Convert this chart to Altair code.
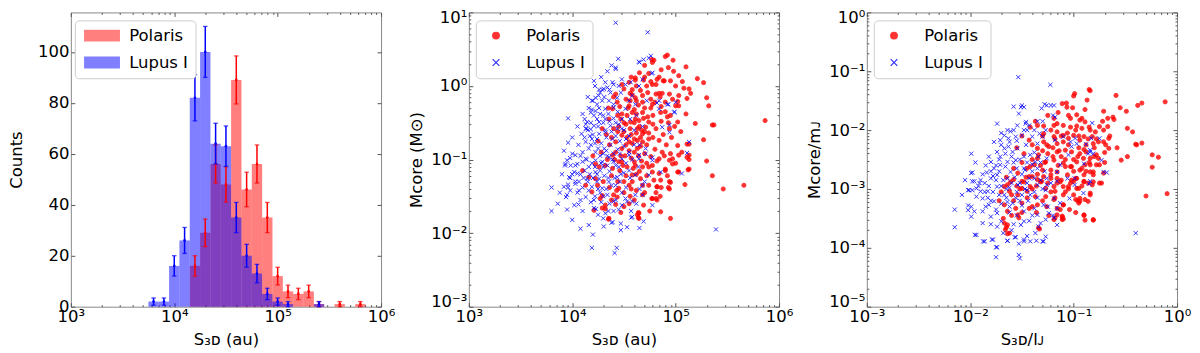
import altair as alt
import numpy as np
import pandas as pd

# ---------------- data ----------------
series_names = ["Polaris", "Lupus I"]
series_colors = ["#ff0000", "#0000ff"]

# histogram: log10 bin centres (bins 0.1 dex wide) and counts
bin_log_centers = [3.8, 3.9, 4.0, 4.1, 4.2, 4.3, 4.4, 4.5, 4.6, 4.7, 4.8,
                   4.9, 5.0, 5.1, 5.2, 5.3, 5.4, 5.5, 5.6, 5.7, 5.8]
polaris_counts = [0, 0, 0, 0, 16, 29, 56, 48, 89, 46, 56, 35, 12, 6, 5, 6, 1, 0, 1, 0, 1]
lupus_counts = [2, 2, 16, 26, 82, 100, 64, 63, 35, 20, 13, 5, 2, 1, 0, 0, 1, 0, 0, 0, 0]

# panel 2: (log10 S3D [au], log10 Mcore [Msun])
polaris_sep_mass = [
    (5.865, -0.47), (5.66, -1.35), (5.46, -1.40), (5.355, -1.22), (5.30, -1.02), (5.27, -0.73),
    (5.355, -0.53), (5.37, -0.53), (5.19, -0.51), (5.32, -0.27), (5.30, -0.16), (5.27, 0.045),
    (5.21, 0.10), (5.10, 0.26), (5.11, -0.17), (5.145, -0.10), (5.08, -0.03), (5.065, 0.06),
    (5.00, 0.00), (4.975, 0.35), (4.92, 0.42), (4.90, 0.40), (4.88, 0.07), (4.87, -0.10),
    (4.97, -0.18), (5.02, -0.21), (5.03, -0.27), (5.11, -0.79), (5.12, -1.14), (5.09, -1.34),
    (5.13, -1.00), (5.02, -0.81), (5.02, -1.17), (4.95, -1.80), (4.855, -1.71), (4.94, -1.40),
    (4.95, -1.31), (4.90, -1.13), (4.77, 0.36), (4.79, 0.35), (4.65, 0.18), (4.69, 0.08),
    (4.74, 0.17), (4.61, 0.08), (4.55, 0.05), (4.58, -0.05), (4.81, 0.02), (4.81, -0.11),
    (4.84, -0.10), (4.73, -0.09), (4.81, -1.53), (4.77, -1.53), (4.81, -1.45), (4.82, -1.37),
    (4.64, -1.72), (4.64, -1.79), (4.63, -1.75), (4.42, -1.61), (4.35, -1.81), (4.32, -1.67),
    (4.29, -1.49),
    (4.775, 0.32), (4.61, 0.11), (4.775, 0.02), (4.82, 0.09), (4.89, 0.07), (4.95, 0.07),
    (5.03, 0.14), (5.13, -0.04), (4.94, -0.11), (5.03, -0.13), (4.68, -0.13), (4.61, -0.16),
    (4.50, -0.04), (4.42, -0.11), (4.55, -0.27), (4.775, -0.25), (4.90, -0.22), (5.00, -0.27),
    (5.10, -0.38), (5.02, -0.49), (4.855, -0.36), (4.68, -0.36), (4.61, -0.45), (4.74, -0.49),
    (4.81, -0.58), (4.94, -0.58), (5.13, -0.79), (5.11, -0.97), (4.97, -0.99), (4.87, -0.90),
    (4.74, -0.72), (4.68, -0.65), (4.56, -0.58), (4.52, -0.52), (4.48, -0.67), (4.55, -0.76),
    (4.63, -0.85), (4.48, -0.85), (4.42, -0.76), (4.39, -0.94), (4.48, -1.03), (4.60, -1.03),
    (4.775, -1.08), (4.355, -0.45), (4.29, -0.58), (4.435, -0.22), (4.39, -0.31), (4.48, -0.38),
    (4.58, -0.36), (4.645, -0.47), (4.565, -0.49), (4.71, -0.56), (4.63, -0.58), (4.68, -0.76),
    (4.95, -0.92), (5.03, -0.94), (5.13, -0.94), (4.84, -0.99), (4.94, -1.01), (4.97, -1.06),
    (5.13, -1.13), (5.03, -1.17), (4.90, -1.15), (4.84, -1.19), (4.775, -1.17), (4.68, -1.10),
    (4.61, -1.08), (4.53, -1.10), (4.45, -1.03), (4.39, -1.12), (4.32, -1.08), (4.225, -1.06),
    (4.225, -1.26), (4.19, -1.44), (4.27, -1.53), (4.32, -1.62), (4.355, -1.80), (4.40, -1.48),
    (4.435, -1.51), (4.45, -1.39), (4.55, -1.35), (4.58, -1.21), (4.68, -1.35), (4.68, -1.48),
    (4.775, -1.53), (4.82, -1.55), (4.82, -1.37), (4.855, -1.28), (4.94, -1.30), (4.93, -1.38),
    (4.645, -1.73), (4.645, -1.80), (4.50, -1.64), (4.29, -1.66), (4.21, -1.69), (4.10, -1.15),
    (4.16, -1.24), (4.13, -1.35), (4.245, -1.35),
    (4.45, -0.55), (4.50, -0.62), (4.53, -0.70), (4.57, -0.66), (4.60, -0.72), (4.62, -0.64),
    (4.66, -0.70), (4.70, -0.62), (4.72, -0.80), (4.66, -0.82), (4.60, -0.90), (4.55, -0.88),
    (4.51, -0.95), (4.57, -0.98), (4.64, -0.95), (4.70, -0.92), (4.76, -0.96), (4.80, -0.86),
    (4.78, -0.70), (4.84, -0.74), (4.88, -0.66), (4.91, -0.80), (4.86, -0.48), (4.92, -0.42),
    (4.78, -0.40), (4.70, -0.30), (4.64, -0.26), (4.60, -0.32), (4.53, -0.40), (4.47, -0.45),
    (4.44, -0.62), (4.42, -0.90), (4.46, -1.15), (4.52, -1.22), (4.58, -1.30), (4.62, -1.20),
    (4.66, -1.26), (4.72, -1.22), (4.74, -1.35), (4.70, -1.45), (4.62, -1.42), (4.56, -1.50),
    (4.50, -1.45), (4.44, -1.30), (4.38, -1.22), (4.36, -1.38), (4.34, -1.00), (4.36, -0.80),
    (4.33, -0.66), (4.40, -0.58), (4.46, -0.28), (4.52, -0.18), (4.58, -0.12), (4.66, -0.06),
    (4.72, 0.00), (4.62, 0.00), (4.56, -0.20), (4.76, -0.18), (4.86, -0.28), (4.93, -0.50),
    (4.96, -0.70), (4.89, -0.95), (4.82, -1.02), (4.74, -1.10), (4.67, -1.02), (4.59, -1.12),
    (4.49, -1.08), (4.41, -1.00), (4.28, -0.90), (4.25, -0.75), (4.30, -1.30), (4.26, -1.10),
    (4.20, -0.95), (4.35, -0.30), (4.40, -0.15), (4.48, 0.02), (4.57, 0.12), (4.70, 0.28),
    (4.86, 0.22), (4.98, 0.20), (4.60, -0.50), (4.65, -0.55), (4.74, -0.64), (4.78, -0.52),
    (4.69, -0.44), (4.54, -0.30), (4.62, -0.38),
    (4.47, -0.95), (4.52, -0.80), (4.58, -0.78), (4.63, -0.74), (4.67, -0.60), (4.73, -0.42),
    (4.76, -0.30), (4.80, -0.22), (4.85, -0.15), (4.90, -0.35), (4.95, -0.40), (4.99, -0.55),
    (5.05, -0.62), (5.06, -0.90), (5.00, -1.05), (4.92, -1.22), (4.86, -1.38), (4.79, -1.28),
    (4.72, -1.05), (4.65, -1.16), (4.57, -1.40), (4.50, -1.30), (4.43, -1.42), (4.38, -1.55),
    (4.47, -1.72), (4.55, -1.60), (4.60, -1.55), (4.69, -1.62), (4.75, -1.70), (4.85, -1.50),
    (4.62, -0.20), (4.68, -0.22), (4.76, 0.06), (4.84, 0.12), (4.93, 0.25), (4.70, 0.12),
    (4.56, -0.10), (4.50, -0.50), (4.44, -0.40), (4.38, -0.70),
]

lupus_sep_mass = [
    (4.42, 0.86), (4.73, 0.73), (4.42, 0.23), (4.29, -0.05), (4.65, 0.32), (4.77, 0.17),
    (4.76, 0.41), (4.45, 0.00), (3.96, -0.44), (3.96, -0.77), (3.80, -1.38), (3.80, -1.70),
    (3.96, -1.38), (4.00, -1.82), (4.08, -1.94), (4.41, -2.27), (4.43, -2.20), (4.38, -1.86),
    (4.57, -1.79), (5.39, -1.95), (5.11, -0.91), (5.06, -1.19), (4.99, -0.35), (4.94, -0.53),
    (4.93, -0.25), (4.84, -0.20), (4.82, -0.23), (4.23, -1.67), (4.21, -1.55), (3.94, -1.51),
    (3.98, -1.42), (4.03, -1.33), (4.13, -1.51), (3.93, -1.08), (3.95, -1.01), (4.03, -1.08),
    (4.05, -1.19), (4.13, -0.52), (4.14, -0.58), (4.19, -0.32), (4.18, -0.59),
    (4.445, 0.37), (4.42, 0.25), (4.645, 0.33), (4.69, 0.36), (4.74, 0.38), (4.775, 0.18),
    (4.21, 0.07), (4.39, 0.05), (4.40, 0.02), (4.34, -0.02), (4.305, -0.04), (4.27, -0.09),
    (4.255, -0.13), (4.225, -0.16), (4.19, -0.20), (4.24, -0.25), (4.29, -0.20), (4.48, 0.09),
    (4.515, 0.02), (4.47, -0.09), (4.435, -0.16), (4.37, -0.09), (4.355, -0.20), (4.40, -0.29),
    (4.32, -0.31), (4.27, -0.38), (4.225, -0.34), (4.18, -0.36), (4.145, -0.49), (4.13, -0.58),
    (4.21, -0.54), (4.26, -0.49), (4.32, -0.45), (4.37, -0.54), (4.32, -0.63), (4.26, -0.65),
    (4.19, -0.72), (4.13, -0.76), (4.16, -0.85), (4.10, -0.90), (4.03, -0.94), (4.00, -0.92),
    (3.935, -1.06), (4.05, -1.06), (4.225, -0.90), (4.31, -0.85), (4.39, -0.72), (4.435, -0.58),
    (4.48, -0.45), (4.515, -0.31), (4.55, -0.20), (4.58, -0.13), (4.61, -0.25), (4.565, 0.05),
    (4.645, 0.00), (4.68, 0.09), (4.84, -0.31), (4.87, -0.56), (4.94, -0.63), (4.92, -0.25),
    (4.985, -0.36), (5.00, -0.22), (5.13, -0.76), (4.71, -0.85), (4.645, -0.94), (4.775, -0.97),
    (4.55, -0.90), (4.48, -0.99), (4.42, -1.08), (4.29, -1.03), (4.355, -0.97),
    (3.95, -1.48), (3.96, -1.34), (3.92, -1.37), (3.97, -1.24), (4.065, -1.30), (4.065, -1.42),
    (4.06, -1.61), (4.21, -1.66), (4.32, -1.73), (4.16, -1.89), (4.20, -2.02), (4.19, -2.20),
    (4.305, -1.91), (4.39, -1.85), (4.47, -1.87), (4.47, -1.96), (4.53, -1.92), (4.58, -1.78),
    (4.65, -1.93), (4.69, -1.84), (4.58, -1.57), (4.61, -1.48), (4.53, -1.57), (4.48, -1.62),
    (4.515, -1.53), (4.68, -1.48), (4.775, -1.62), (4.68, -1.35), (4.855, -1.17), (4.74, -1.21),
    (4.61, -1.21), (4.55, -1.15), (4.435, -1.24), (4.355, -1.30), (4.29, -1.39), (4.26, -1.26),
    (4.225, -1.17), (4.16, -1.10), (4.10, -1.03), (4.02, -1.17), (3.985, -1.08), (4.13, -0.99),
    (4.225, -1.01), (4.34, -1.08), (4.40, -1.03), (4.55, -0.94), (4.645, -0.99), (4.71, -0.92),
    (4.775, -1.01), (4.34, -1.48), (4.40, -1.57), (4.19, -1.37), (4.145, -1.26),
    (4.15, -0.60), (4.20, -0.66), (4.24, -0.72), (4.28, -0.78), (4.33, -0.70), (4.38, -0.62),
    (4.42, -0.68), (4.46, -0.75), (4.50, -0.82), (4.44, -0.86), (4.37, -0.80), (4.30, -0.92),
    (4.25, -0.85), (4.18, -0.80), (4.12, -1.15), (4.17, -1.20), (4.22, -1.10), (4.27, -1.15),
    (4.31, -1.22), (4.36, -1.16), (4.41, -1.25), (4.46, -1.30), (4.50, -1.18), (4.45, -1.10),
    (4.38, -1.35), (4.33, -1.40), (4.27, -1.45), (4.22, -1.50), (4.16, -1.42), (4.10, -1.38),
    (4.08, -1.20), (4.06, -0.80), (4.09, -0.65), (4.12, -0.45), (4.16, -0.30), (4.21, -0.40),
    (4.25, -0.55), (4.30, -0.50), (4.35, -0.38), (4.40, -0.44), (4.45, -0.52), (4.50, -0.60),
    (4.55, -0.68), (4.60, -0.80), (4.58, -1.00), (4.52, -1.05), (4.48, -1.45), (4.42, -1.55),
    (4.36, -1.60), (4.28, -1.58), (4.24, -1.30), (4.20, -1.25), (4.14, -1.00), (4.34, -0.95),
    (4.39, -1.00), (4.28, -1.05), (4.32, -0.60), (4.26, -0.30), (4.31, -0.15), (4.36, -0.05),
    (4.40, -0.25), (4.44, -0.35), (4.22, 0.00), (4.28, 0.12), (4.34, 0.20), (4.38, 0.28),
    (4.30, -1.80), (4.25, -1.75), (4.40, -1.70), (4.57, -1.70), (4.62, -1.60), (4.65, -1.40),
    (4.70, -1.30), (4.64, -1.10), (4.68, -0.55), (4.62, -0.40), (4.72, -0.20), (4.56, -0.45),
    (4.05, -1.45), (4.00, -1.20), (4.03, -1.30), (3.98, -0.98), (3.92, -0.88), (3.90, -1.20),
    (3.88, -1.45), (3.86, -1.60), (4.08, -1.55), (4.10, -1.70), (4.02, -1.62), (3.95, -1.68),
    (4.17, -0.68), (4.22, -0.78), (4.27, -0.95), (4.33, -0.88), (4.40, -0.92), (4.46, -0.92),
    (4.52, -0.72), (4.48, -0.58), (4.42, -0.50), (4.36, -0.48), (4.30, -0.40), (4.24, -0.45),
    (4.18, -0.50), (4.12, -0.70), (4.08, -0.95), (4.11, -1.25), (4.15, -1.30), (4.19, -1.05),
    (4.24, -1.20), (4.30, -1.10), (4.35, -1.25), (4.42, -1.35), (4.47, -1.20), (4.52, -1.38),
    (4.56, -1.25), (4.30, -1.50), (4.25, -1.40), (4.18, -1.58), (4.35, -1.70), (4.45, -1.68),
    (4.20, -0.20), (4.26, -0.05), (4.32, 0.05), (4.15, -0.15), (4.10, -0.38), (4.05, -0.55),
    (4.00, -0.70), (3.98, -1.25), (4.60, -0.60), (4.65, -0.80),
]

# panel 3: (log10 S3D/lJ, log10 Mcore/mJ)
polaris_norm = [
    (-0.096, -3.08), (-0.30, -3.12), (-0.24, -2.63), (-0.24, -2.42), (-0.18, -2.46), (-0.115, -1.52),
    (-0.34, -2.22), (-0.40, -2.24), (-0.39, -2.25), (-0.48, -2.45), (-0.54, -2.51), (-0.48, -1.97),
    (-0.43, -2.03), (-0.34, -1.54), (-0.38, -1.58), (-0.49, -1.68), (-0.55, -1.62), (-0.59, -1.41),
    (-0.62, -1.78), (-0.61, -1.82), (-0.67, -1.80), (-0.67, -1.94), (-0.58, -2.30), (-0.66, -2.31),
    (-0.66, -2.14), (-0.71, -1.68), (-0.85, -1.31), (-0.84, -1.33), (-0.87, -1.49), (-0.99, -1.38),
    (-1.00, -1.42), (-1.01, -1.62), (-1.07, -1.54), (-1.11, -1.55), (-0.89, -3.53), (-0.81, -3.53),
    (-0.90, -3.45), (-0.96, -3.20), (-0.94, -3.21), (-1.11, -3.52), (-1.11, -3.48), (-1.19, -3.52),
    (-1.33, -3.68), (-1.31, -2.87), (-1.19, -3.18), (-1.64, -3.76), (-1.65, -3.65), (-1.67, -3.58),
    (-0.94, -2.68), (-0.90, -2.76), (-0.86, -2.90), (-0.84, -3.07), (-0.94, -3.16), (-0.89, -3.18),
    (-0.97, -2.99), (-1.00, -2.87), (-1.05, -2.96), (-0.81, -2.71), (-0.78, -2.59), (-0.76, -2.48),
    (-0.905, -2.48), (-0.84, -2.59), (-1.10, -3.27), (-1.13, -3.35), (-1.16, -3.44),
    (-1.065, -1.61), (-0.89, -1.65), (-0.97, -1.74), (-1.03, -1.80), (-1.19, -1.80), (-1.16, -1.89),
    (-1.10, -1.92), (-1.19, -1.92), (-1.29, -1.93), (-1.37, -1.85), (-1.35, -1.92), (-0.94, -1.83),
    (-0.89, -1.86), (-0.97, -1.93), (-1.03, -1.95), (-0.92, -1.97), (-0.84, -2.00), (-0.79, -2.03),
    (-0.75, -1.94), (-0.71, -2.00), (-1.29, -2.06), (-1.22, -2.00), (-1.16, -2.03), (-1.19, -2.11),
    (-1.10, -2.09), (-1.05, -2.14), (-1.00, -2.09), (-0.90, -2.11), (-0.82, -2.11), (-0.71, -2.20),
    (-0.69, -2.25), (-0.81, -2.23), (-0.94, -2.17), (-1.16, -2.23), (-1.24, -2.28), (-1.29, -2.20),
    (-1.35, -2.31), (-1.43, -2.17), (-1.16, -2.37), (-1.08, -2.34), (-1.02, -2.37), (-0.94, -2.40),
    (-0.88, -2.37), (-0.78, -2.42), (-0.84, -2.48), (-0.75, -2.59), (-0.89, -2.59), (-0.97, -2.54),
    (-1.03, -2.62), (-1.10, -2.56), (-1.19, -2.51), (-1.27, -2.54), (-1.35, -2.48), (-1.38, -2.59),
    (-1.30, -2.68), (-1.16, -2.71), (-1.06, -2.76), (-0.98, -2.82), (-0.90, -2.88), (-0.81, -2.88),
    (-0.73, -2.90), (-0.84, -2.71), (-1.13, -2.88), (-1.22, -2.82), (-1.32, -2.88), (-1.40, -2.79),
    (-1.48, -2.88), (-1.54, -2.73), (-1.61, -2.88), (-1.67, -2.96), (-1.50, -2.99), (-1.42, -2.96),
    (-1.27, -2.99), (-1.19, -2.96), (-0.95, -2.99),
    (-0.71, -2.73), (-0.81, -2.76), (-0.90, -2.87), (-0.82, -2.93), (-0.75, -2.90), (-0.97, -2.82),
    (-1.03, -2.90), (-1.10, -2.96), (-1.16, -2.82), (-1.22, -2.76), (-1.29, -2.79), (-1.35, -2.84),
    (-1.43, -2.79), (-1.50, -2.87), (-1.58, -2.84), (-1.64, -2.93), (-1.62, -3.04), (-1.54, -3.10),
    (-1.45, -3.04), (-1.37, -3.13), (-1.27, -3.13), (-1.18, -3.04), (-1.10, -3.10), (-0.98, -3.18),
    (-0.95, -3.24), (-0.84, -3.10), (-0.86, -3.21), (-0.90, -3.44), (-0.81, -3.52), (-1.10, -3.27),
    (-1.16, -3.33), (-1.26, -3.30), (-1.35, -3.27), (-1.43, -3.33), (-1.50, -3.24), (-1.56, -3.33),
    (-1.64, -3.38), (-1.67, -3.27), (-1.54, -3.44), (-1.53, -3.49), (-1.64, -3.61), (-1.62, -3.75),
    (-1.66, -3.69), (-1.34, -3.66), (-1.18, -3.49), (-1.11, -3.46), (-1.10, -3.51),
    (-1.25, -2.40), (-1.20, -2.30), (-1.12, -2.45), (-1.05, -2.25), (-1.00, -2.50), (-0.95, -2.30),
    (-1.08, -2.62), (-1.15, -2.60), (-1.22, -2.68), (-1.30, -2.35), (-1.32, -2.60), (-1.40, -2.50),
    (-1.45, -2.65), (-1.50, -2.55), (-1.55, -2.95), (-1.60, -3.10), (-1.45, -3.15), (-1.40, -3.00),
    (-1.35, -2.75), (-1.25, -2.90), (-1.18, -3.15), (-1.05, -3.00), (-1.00, -2.70), (-0.92, -2.65),
    (-0.88, -2.25), (-0.95, -2.10), (-1.10, -2.20), (-1.18, -2.15), (-1.30, -2.10), (-1.42, -1.95),
    (-1.50, -2.10), (-1.55, -2.30), (-1.58, -2.65), (-1.65, -2.80), (-1.70, -3.05), (-1.72, -3.20),
    (-1.68, -3.50), (-1.60, -3.45), (-1.50, -3.40), (-1.40, -3.30), (-1.30, -3.20), (-1.22, -3.05),
    (-1.12, -2.85), (-1.02, -2.85), (-0.85, -2.55), (-0.80, -2.45), (-0.78, -2.15), (-0.85, -1.95),
    (-0.92, -1.80), (-1.05, -1.75), (-1.15, -1.70), (-1.25, -1.75), (-1.40, -2.25), (-1.48, -2.40),
    (-0.70, -2.38), (-0.65, -2.10), (-0.72, -1.85),
    (-1.20, -2.45), (-1.14, -2.35), (-1.08, -2.50), (-1.02, -2.62), (-0.96, -2.45), (-0.90, -2.33),
    (-0.86, -2.15), (-0.98, -2.00), (-1.06, -2.05), (-1.12, -2.10), (-1.26, -2.25), (-1.34, -2.42),
    (-1.42, -2.62), (-1.46, -2.80), (-1.36, -2.95), (-1.28, -2.55), (-1.16, -2.90), (-1.08, -3.05),
    (-1.00, -3.10), (-0.92, -2.95), (-0.88, -2.70), (-0.80, -2.30), (-0.76, -2.20), (-0.70, -2.55),
    (-1.52, -3.00), (-1.58, -3.20), (-1.36, -3.40), (-1.24, -3.45), (-1.04, -3.35), (-0.98, -3.40),
]

lupus_norm = [
    (-1.535, -1.10), (-1.225, -1.23), (-0.40, -3.75), (-0.68, -2.72), (-0.82, -1.88), (-0.905, -3.07),
    (-0.84, -2.87), (-0.85, -2.91), (-1.26, -2.93), (-1.29, -3.89), (-1.36, -3.88), (-1.45, -3.80),
    (-1.48, -3.89), (-1.53, -4.12), (-1.52, -4.18), (-1.57, -3.82), (-1.64, -3.88), (-1.75, -4.16),
    (-1.75, -3.99), (-1.79, -3.86), (-1.875, -3.89), (-1.955, -3.78), (-2.15, -3.35), (-2.15, -3.65),
    (-1.99, -2.40), (-1.99, -2.73), (-1.99, -3.47), (-2.02, -3.28), (-1.98, -3.02), (-1.74, -1.89),
    (-1.82, -2.45), (-1.58, -1.60), (-1.50, -1.58), (-1.51, -1.61), (-1.46, -1.86), (-1.31, -1.63),
    (-1.30, -1.85), (-1.18, -1.78), (-1.20, -1.75), (-1.22, -1.58), (-1.28, -1.56), (-0.83, -2.14),
    (-0.86, -2.40), (-0.81, -2.40), (-0.84, -2.34),
    (-1.48, -1.61), (-1.53, -1.72), (-1.26, -1.58), (-1.19, -1.58), (-1.35, -1.85), (-1.64, -2.00),
    (-1.61, -2.02), (-1.545, -1.92), (-1.465, -1.89), (-1.43, -1.92), (-1.48, -2.00), (-1.67, -2.09),
    (-1.71, -2.17), (-1.63, -2.14), (-1.56, -2.11), (-1.50, -2.09), (-1.40, -2.11), (-1.35, -2.23),
    (-1.30, -2.11), (-1.27, -2.00), (-1.33, -2.06), (-1.80, -2.54), (-1.74, -2.37), (-1.71, -2.45),
    (-1.67, -2.31), (-1.63, -2.28), (-1.59, -2.37), (-1.545, -2.31), (-1.77, -2.65), (-1.71, -2.59),
    (-1.64, -2.54), (-1.56, -2.51), (-1.48, -2.45), (-1.42, -2.42), (-1.37, -2.54), (-1.48, -2.65),
    (-1.61, -2.71), (-1.74, -2.76), (-1.80, -2.82), (-1.86, -2.90), (-1.98, -2.87), (-1.98, -2.72),
    (-1.94, -2.99), (-2.01, -3.02), (-1.26, -2.48), (-1.35, -2.65), (-1.38, -2.82), (-1.26, -2.82),
    (-1.16, -2.71), (-1.13, -2.59), (-1.05, -2.42), (-1.02, -2.28), (-0.97, -2.23), (-0.88, -2.24),
    (-0.84, -2.37), (-0.90, -2.57), (-0.99, -2.82), (-1.18, -2.17), (-1.10, -2.11), (-0.985, -2.14),
    (-1.03, -2.20), (-0.73, -2.51), (-0.75, -2.14), (-0.71, -2.71),
    (-1.96, -2.87), (-1.91, -2.90), (-2.02, -3.02), (-1.90, -3.04), (-1.94, -3.13), (-1.88, -3.16),
    (-1.99, -3.30), (-2.02, -3.36), (-1.96, -3.38), (-1.88, -3.38), (-1.88, -3.58), (-1.94, -3.78),
    (-1.86, -3.89), (-1.78, -3.86), (-1.74, -3.99), (-1.64, -3.88), (-1.56, -3.82), (-1.53, -3.93),
    (-1.48, -3.86), (-1.42, -3.89), (-1.30, -3.89), (-1.27, -3.81), (-1.37, -3.75), (-1.34, -3.64),
    (-1.27, -3.52), (-1.32, -3.58), (-1.43, -3.54), (-1.51, -3.61), (-1.74, -3.64), (-1.80, -3.47),
    (-1.74, -3.41), (-1.82, -3.27), (-1.77, -3.21), (-1.83, -3.04), (-1.74, -2.96), (-1.67, -3.10),
    (-1.59, -3.24), (-1.48, -3.38), (-1.38, -3.33), (-1.29, -3.27), (-1.35, -3.44), (-1.24, -3.41),
    (-1.16, -3.33), (-1.13, -3.24), (-1.19, -3.16), (-1.27, -3.02), (-1.35, -2.93), (-1.45, -3.02),
    (-1.54, -2.93), (-1.64, -2.82), (-1.16, -2.87), (-1.06, -2.82), (-0.99, -2.93), (-1.04, -3.16),
    (-1.16, -3.61), (-1.19, -3.49),
    (-1.85, -2.60), (-1.80, -2.70), (-1.75, -2.85), (-1.70, -2.95), (-1.65, -3.00), (-1.60, -2.90),
    (-1.55, -3.05), (-1.50, -3.10), (-1.45, -2.90), (-1.40, -2.70), (-1.45, -2.55), (-1.50, -2.75),
    (-1.55, -2.65), (-1.60, -2.45), (-1.66, -2.62), (-1.72, -2.50), (-1.78, -3.05), (-1.83, -3.15),
    (-1.70, -3.25), (-1.62, -3.30), (-1.55, -3.45), (-1.48, -3.55), (-1.40, -3.45), (-1.35, -3.15),
    (-1.30, -3.00), (-1.25, -3.30), (-1.20, -3.45), (-1.42, -3.10), (-1.52, -3.20), (-1.58, -3.60),
    (-1.68, -3.75), (-1.60, -3.70), (-1.70, -2.25), (-1.62, -2.20), (-1.55, -2.18), (-1.46, -2.25),
    (-1.38, -2.38), (-1.32, -2.55), (-1.28, -2.70), (-1.22, -2.90), (-1.65, -3.15), (-1.75, -3.35),
    (-1.85, -3.30), (-1.92, -2.95), (-1.88, -2.75), (-1.95, -2.55), (-2.05, -2.85), (-2.08, -3.10),
    (-1.77, -2.20), (-1.70, -2.05), (-1.58, -2.00), (-1.45, -2.00), (-1.38, -2.00),
    (-1.82, -2.95), (-1.78, -2.78), (-1.72, -2.70), (-1.68, -2.85), (-1.62, -2.98), (-1.57, -2.80),
    (-1.52, -2.90), (-1.47, -3.00), (-1.43, -2.82), (-1.47, -2.68), (-1.52, -2.50), (-1.58, -2.55),
    (-1.66, -2.40), (-1.75, -2.60), (-1.84, -2.72), (-1.90, -2.85), (-1.86, -3.05), (-1.80, -3.20),
    (-1.72, -3.10), (-1.64, -3.22), (-1.56, -3.15), (-1.50, -3.28), (-1.44, -3.20), (-1.38, -3.05),
    (-1.32, -2.85), (-1.40, -2.58), (-1.34, -2.45), (-1.62, -3.40), (-1.70, -3.55), (-1.80, -3.60),
]

# ---------------- tables built from the arrays ----------------
rows = []
for name, counts in zip(series_names, [polaris_counts, lupus_counts]):
    for c, n in zip(bin_log_centers, counts):
        if n > 0:
            e = float(np.sqrt(n))
            rows.append(dict(series=name, x0=10 ** (c - 0.05), x1=10 ** (c + 0.05),
                             xc=10 ** c, n=n, lo=n - e, hi=n + e))
hist = pd.DataFrame(rows)
caps = pd.concat([
    hist[["series", "xc"]].assign(v=hist["lo"]),
    hist[["series", "xc"]].assign(v=hist["hi"]),
], ignore_index=True)


def scatter_frame(red, blue):
    out = []
    for name, pts in zip(series_names, [red, blue]):
        for lx, ly in pts:
            out.append(dict(series=name, x=10 ** lx, y=10 ** ly))
    return pd.DataFrame(out)


sc2 = scatter_frame(polaris_sep_mass, lupus_sep_mass)
sc3 = scatter_frame(polaris_norm, lupus_norm)

# ---------------- styling helpers ----------------
FONT = "DejaVu Sans"
FS = 16.5
W, H = 311, 295
TICKC = "#555555"
XPATH = "M-1,-1L1,1M-1,1L1,-1"
SUP = {"-": "\u207b", "0": "\u2070", "1": "\u00b9", "2": "\u00b2", "3": "\u00b3",
       "4": "\u2074", "5": "\u2075", "6": "\u2076", "7": "\u2077", "8": "\u2078", "9": "\u2079"}
MAJOR = "abs(log(datum.value)/LN10 - round(log(datum.value)/LN10)) < 0.001"


def log_ticks(k0, k1):
    vals = []
    for k in range(k0, k1):
        for m in range(1, 10):
            vals.append(round(m * 10.0 ** k, 12))
    vals.append(10.0 ** k1)
    return vals


def pow_expr(k0, k1):
    s = "''"
    for k in range(k0, k1 + 1):
        lab = "10" + "".join(SUP[ch] for ch in str(k))
        s = f"abs(datum.value/{10.0 ** k!r} - 1) < 1e-6 ? '{lab}' : " + s
    return s


def log_axis(orient, k0, k1, title=None, labels=True, title_padding=6, flush=False):
    kw = dict(orient=orient, values=log_ticks(k0, k1), domain=False, grid=False,
              tickColor=TICKC, tickWidth=1, labelFlush=flush,
              tickSize={"condition": {"test": MAJOR, "value": -4}, "value": -2},
              labels=labels, labelPadding=6, title=title)
    if flush:
        kw["labelFlushOffset"] = 3
    if labels:
        kw["labelExpr"] = pow_expr(k0, k1)
        kw["titlePadding"] = title_padding
    return alt.Axis(**kw)


def lin_axis(orient, title=None, labels=True, title_padding=6):
    return alt.Axis(orient=orient, values=[0, 20, 40, 60, 80, 100], domain=False, grid=False,
                    tickColor=TICKC, tickWidth=1, tickSize={"expr": "-4"}, labels=labels,
                    labelFlush=False, labelPadding=6, title=title, titlePadding=title_padding)


color_scale = alt.Scale(domain=series_names, range=series_colors)
legend_box = dict(orient="none", legendY=8, title=None, padding=7,
                  fillColor="white", strokeColor="#cccccc", cornerRadius=4,
                  labelFontSize=FS, labelFont=FONT, labelColor="black", rowPadding=10)

# ---------------- panel 1: histogram ----------------
xh = alt.Scale(type="log", domain=[1e3, 1e6], nice=False)
yh = alt.Scale(domain=[0, 115.5], nice=False, zero=True)

bars = alt.Chart(hist).mark_rect(opacity=0.5, strokeWidth=0).encode(
    x=alt.X("x0:Q", scale=xh, axis=log_axis("bottom", 3, 6, title="S\u2083\u1d05 (au)")),
    x2="x1:Q",
    y=alt.Y("n:Q", scale=yh, axis=lin_axis("left", title="Counts", title_padding=13)),
    y2=alt.datum(0),
    color=alt.Color("series:N", scale=color_scale,
                    legend=alt.Legend(symbolType="M-1,-1H5V1H-1Z", symbolSize=144,
                                      symbolOpacity=0.5, symbolStrokeWidth=0,
                                      labelOffset=31, legendX=4, **legend_box)),
)

err_layers = []
for name, col in zip(series_names, series_colors):
    base = alt.Chart(hist).transform_filter(alt.datum.series == name)
    err_layers.append(base.mark_rule(color=col, strokeWidth=1.5).encode(
        x=alt.X("xc:Q", scale=xh, axis=None),
        y=alt.Y("lo:Q", scale=yh, axis=None), y2="hi:Q"))
    err_layers.append(alt.Chart(caps).transform_filter(alt.datum.series == name)
                      .mark_tick(color=col, orient="horizontal", size=4.5, thickness=1.3).encode(
        x=alt.X("xc:Q", scale=xh, axis=None),
        y=alt.Y("v:Q", scale=yh, axis=None)))
    err_layers.append(base.mark_point(color=col, filled=True, size=7, opacity=1).encode(
        x=alt.X("xc:Q", scale=xh, axis=None),
        y=alt.Y("n:Q", scale=yh, axis=None)))

frame1 = alt.Chart(hist).mark_point(opacity=0).encode(
    x=alt.X("xc:Q", scale=xh, axis=log_axis("top", 3, 6, labels=False)),
    y=alt.Y("n:Q", scale=yh, axis=lin_axis("right", labels=False)),
)

panel1 = alt.layer(bars, *err_layers, frame1).resolve_axis(
    x="independent", y="independent").properties(width=W, height=H)


# ---------------- panels 2 & 3: scatter ----------------
def scatter_panel(df, kx, ky, xtitle, ytitle):
    xs = alt.Scale(type="log", domain=[10.0 ** kx[0], 10.0 ** kx[1]], nice=False)
    ys = alt.Scale(type="log", domain=[10.0 ** ky[0], 10.0 ** ky[1]], nice=False)
    leg = alt.Legend(symbolSize=45, symbolStrokeWidth=1.2, symbolOpacity=0.8,
                     symbolOffset=5, labelOffset=22, legendX=7, **legend_box)
    pts = alt.Chart(df).mark_point(size=17, strokeWidth=1, opacity=0.8, filled=False).encode(
        x=alt.X("x:Q", scale=xs, axis=log_axis("bottom", kx[0], kx[1], title=xtitle)),
        y=alt.Y("y:Q", scale=ys, axis=log_axis("left", ky[0], ky[1], title=ytitle, flush=True)),
        color=alt.Color("series:N", scale=color_scale, legend=leg),
        fill=alt.Fill("series:N", scale=alt.Scale(domain=series_names,
                                                  range=["#ff0000", "transparent"]), legend=leg),
        shape=alt.Shape("series:N", scale=alt.Scale(domain=series_names,
                                                    range=["circle", XPATH]), legend=leg),
    )
    frame = alt.Chart(df).mark_point(opacity=0).encode(
        x=alt.X("x:Q", scale=xs, axis=log_axis("top", kx[0], kx[1], labels=False)),
        y=alt.Y("y:Q", scale=ys, axis=log_axis("right", ky[0], ky[1], labels=False)),
    )
    return alt.layer(pts, frame).resolve_axis(
        x="independent", y="independent").properties(width=W, height=H)


panel2 = scatter_panel(sc2, (3, 6), (-3, 1), "S\u2083\u1d05 (au)", "Mcore (M\u2299)")
panel3 = scatter_panel(sc3, (-3, 0), (-5, 0), "S\u2083\u1d05/l\u1d0a", "Mcore/m\u1d0a")

chart = alt.hconcat(panel1, panel2, panel3, spacing=12).resolve_scale(
    color="independent", fill="independent", shape="independent"
).resolve_legend(
    color="independent", fill="independent", shape="independent"
).properties(padding=0).configure(font=FONT).configure_view(
    stroke="#888888", strokeWidth=1
).configure_axis(
    labelFont=FONT, titleFont=FONT, labelFontSize=FS, titleFontSize=FS,
    labelColor="black", titleColor="black", titleFontWeight="normal"
).configure_legend(labelFont=FONT, labelFontSize=FS)

chart.save("out.html", embed_options={"renderer": "svg", "actions": False})
